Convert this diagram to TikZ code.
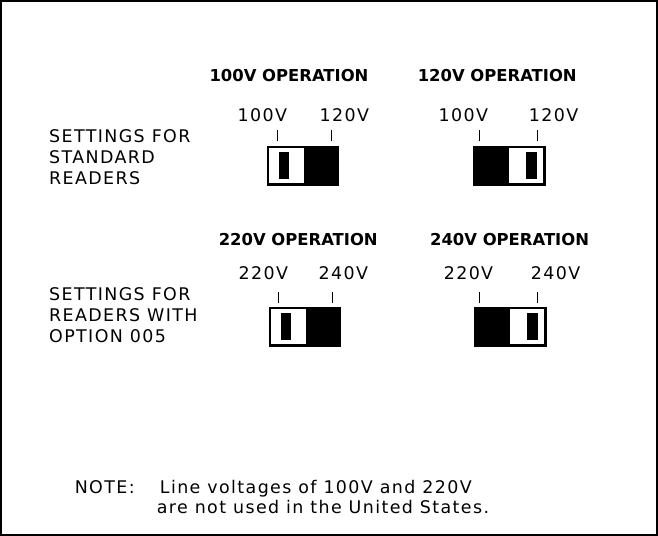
\documentclass[tikz,border=0pt]{standalone}
\usepackage{fontspec}
\setmainfont{DejaVu Sans}
\newfontfamily\plainfont[LetterSpace=8]{DejaVu Sans}
\newfontfamily\headfont{DejaVu Sans}
\usetikzlibrary{positioning}

\begin{document}
\begin{tikzpicture}[
      x=1pt, y=-1pt,
      txt/.style={inner sep=0pt, font=\plainfont\fontsize{17}{20.2}\selectfont},
      heading/.style={inner sep=0pt, font=\headfont\bfseries\fontsize{16}{18}\selectfont},
      swbody/.style={draw, line width=1.4pt, fill=white, minimum width=68pt,
        minimum height=36pt, inner sep=0pt},
      swdark/.style={fill=black, minimum width=34pt, minimum height=36pt, inner sep=0pt},
      knob/.style={fill=black, minimum width=10pt, minimum height=27pt, inner sep=0pt},
      tick/.style={line width=1.3pt}
    ]
    \draw[line width=1.5pt] (10,6) rectangle (650,527);

    % upper row
    \node[heading, anchor=base] (opa) at (291,85) {100V OPERATION};
    \node[heading, anchor=base] (opb) at (494,85) {120V OPERATION};
    \node[txt, anchor=base] (la1) at (265,124) {100V};
    \node[txt, anchor=base] (la2) at (345,124) {120V};
    \node[txt, anchor=base] (lb1) at (461,124) {100V};
    \node[txt, anchor=base] (lb2) at (549,124) {120V};
    \node[txt, anchor=north west, align=left] (std) at (57,131.5)
        {SETTINGS FOR\\STANDARD\\READERS};

    \node[swbody, anchor=north west] (swa) at (270,148) {};
    \node[swdark, anchor=east] (swadark) at (swa.east) {};
    \node[knob] (swaknob) at ([xshift=16pt]swa.west) {};
    \draw[swbody, fill=none] (swa.north west) rectangle (swa.south east);
    \draw[tick] ([xshift=10pt,yshift=5pt]swa.north west) -- ++(0,-11);
    \draw[tick] ([xshift=-7pt,yshift=5pt]swa.north east) -- ++(0,-11);

    \node[swbody, anchor=north west] (swb) at (471,148) {};
    \node[swdark, anchor=west] (swbdark) at (swb.west) {};
    \node[knob] (swbknob) at ([xshift=-13pt]swb.east) {};
    \draw[swbody, fill=none] (swb.north west) rectangle (swb.south east);
    \draw[tick] ([xshift=6pt,yshift=5pt]swb.north west) -- ++(0,-11);
    \draw[tick] ([xshift=-7pt,yshift=5pt]swb.north east) -- ++(0,-11);

    % lower row
    \node[heading, anchor=base] (opc) at (300,245) {220V OPERATION};
    \node[heading, anchor=base] (opd) at (506,245) {240V OPERATION};
    \node[txt, anchor=base] (lc1) at (266,278) {220V};
    \node[txt, anchor=base] (lc2) at (344,278) {240V};
    \node[txt, anchor=base] (ld1) at (466,278) {220V};
    \node[txt, anchor=base] (ld2) at (551,278) {240V};
    \node[txt, anchor=north west, align=left] (opt) at (57,285.5)
        {SETTINGS FOR\\READERS WITH\\OPTION 005};

    \node[swbody, anchor=north west] (swc) at (272,305) {};
    \node[swdark, anchor=east] (swcdark) at (swc.east) {};
    \node[knob] (swcknob) at ([xshift=16pt]swc.west) {};
    \draw[swbody, fill=none] (swc.north west) rectangle (swc.south east);
    \draw[tick] ([xshift=9pt,yshift=4pt]swc.north west) -- ++(0,-11);
    \draw[tick] ([xshift=-8pt,yshift=4pt]swc.north east) -- ++(0,-11);

    \node[swbody, anchor=north west] (swd) at (472,305) {};
    \node[swdark, anchor=west] (swddark) at (swd.west) {};
    \node[knob] (swdknob) at ([xshift=-13pt]swd.east) {};
    \draw[swbody, fill=none] (swd.north west) rectangle (swd.south east);
    \draw[tick] ([xshift=5pt,yshift=4pt]swd.north west) -- ++(0,-11);
    \draw[tick] ([xshift=-8pt,yshift=4pt]swd.north east) -- ++(0,-11);

    % note
    \node[txt, anchor=base west] (note) at (82,486) {NOTE:};
    \node[txt, anchor=base west] (note1) at (165,486) {Line voltages of 100V and 220V};
    \node[txt, anchor=base west] (note2) at (162,506) {are not used in the United States.};
\end{tikzpicture}
\end{document}
